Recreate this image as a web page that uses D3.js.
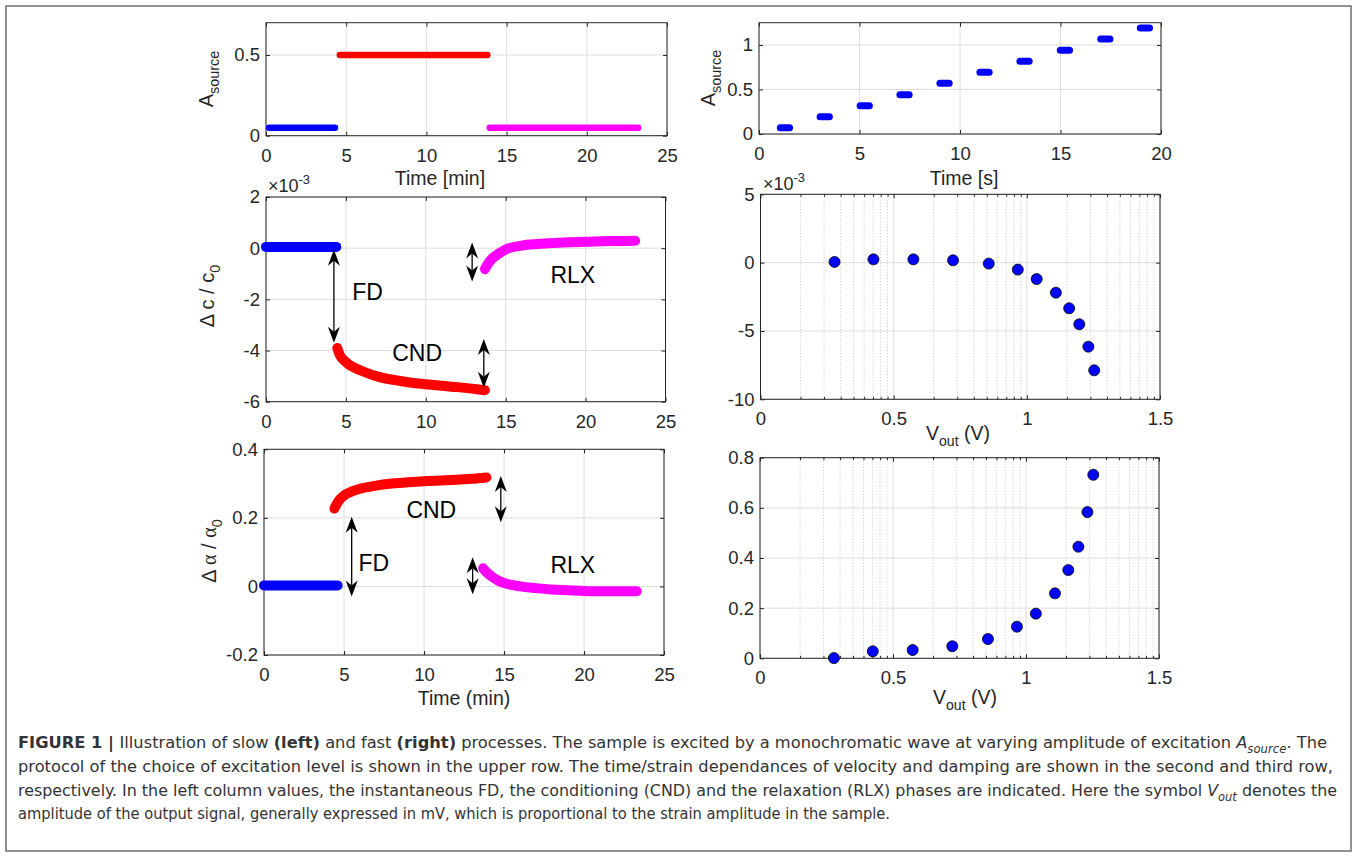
<!DOCTYPE html>
<html>
<head>
<meta charset="utf-8">
<script src="https://cdn.jsdelivr.net/npm/d3@7"></script>
<style>
  body { margin: 0; background: #fff; }
  svg { display: block; }
</style>
</head>
<body>
<script>
'use strict';

// Data ======================================================

// tick values
var slowTicksX = [0, 5, 10, 15, 20, 25];
var fastTicksX = [0, 5, 10, 15, 20];
var voutTicksX = [0, 0.5, 1, 1.5];
var srcSlowTicksY = [0, 0.5];
var srcFastTicksY = [0, 0.5, 1];
var dcSlowTicksY = [-6, -4, -2, 0, 2];
var dcFastTicksY = [-10, -5, 0, 5];
var daSlowTicksY = [-0.2, 0, 0.2, 0.4];
var daFastTicksY = [0, 0.2, 0.4, 0.6, 0.8];

// top left: excitation protocol, slow (time in min)
var srcBlueT = [0.2, 4.3],   srcBlueA = [0.05, 0.05];
var srcRedT  = [4.6, 13.8],  srcRedA  = [0.5, 0.5];
var srcMagT  = [13.95, 23.2], srcMagA = [0.05, 0.05];

// top right: excitation protocol, fast (time in s), one step per level
var fastStart = [1.06, 3.04, 5.03, 7.01, 9.0, 10.99, 12.98, 14.99, 17.0, 18.97];
var fastEnd   = [1.52, 3.5, 5.49, 7.47, 9.46, 11.45, 13.44, 15.45, 17.46, 19.43];
var fastLevel = [0.071, 0.195, 0.318, 0.442, 0.569, 0.693, 0.816, 0.94, 1.067, 1.19];

// middle left: delta c / c0 (x1e-3)
var dcBlueT = [0, 1, 2, 3, 4, 4.4];
var dcBlueV = [0.05, 0.05, 0.05, 0.05, 0.05, 0.05];
var dcRedT  = [4.46, 4.6, 5, 5.5, 6, 7, 8, 9, 10, 11, 12, 13, 13.7];
var dcRedV  = [-3.9, -4.15, -4.45, -4.66, -4.8, -5.02, -5.15, -5.25, -5.32, -5.38, -5.43, -5.5, -5.55];
var dcMagT  = [13.7, 13.9, 14.2, 14.6, 15, 16, 17, 18, 19, 20, 21, 22, 23.1];
var dcMagV  = [-0.82, -0.6, -0.38, -0.2, -0.05, 0.1, 0.16, 0.2, 0.23, 0.25, 0.27, 0.28, 0.29];

// bottom left: delta alpha / alpha0
var daBlueT = [0, 1, 2, 3, 4, 4.6];
var daBlueV = [0.003, 0.003, 0.003, 0.003, 0.003, 0.003];
var daRedT  = [4.4, 4.6, 5, 5.5, 6, 7, 8, 9, 10, 11, 12, 13, 13.9];
var daRedV  = [0.227, 0.245, 0.265, 0.277, 0.285, 0.294, 0.3, 0.304, 0.307, 0.309, 0.311, 0.314, 0.318];
var daMagT  = [13.7, 13.9, 14.2, 14.6, 15, 16, 17, 18, 19, 20, 21, 22, 23.3];
var daMagV  = [0.053, 0.042, 0.03, 0.018, 0.01, 0.0, -0.005, -0.009, -0.011, -0.013, -0.014, -0.014, -0.014];

// right column: values against output amplitude
var vOut   = [0.278, 0.424, 0.574, 0.723, 0.857, 0.966, 1.037, 1.109, 1.159, 1.197, 1.231, 1.253];
var dcFast = [0.05, 0.24, 0.24, 0.17, -0.07, -0.51, -1.2, -2.2, -3.34, -4.51, -6.15, -7.88];
var daFast = [0.001, 0.028, 0.033, 0.048, 0.077, 0.126, 0.178, 0.259, 0.352, 0.445, 0.583, 0.732];

// double arrows (time, from, to) and phase labels
var dcArrowT = [4.25, 13.63, 12.9];
var dcArrowA = [-0.06, -3.55, 0.22];
var dcArrowB = [-3.7, -5.45, -1.3];
var daArrowT = [5.48, 14.8, 13.04];
var daArrowA = [0.203, 0.322, 0.085];
var daArrowB = [-0.029, 0.187, -0.023];
var phaseNames = ['FD', 'CND', 'RLX'];
var dcLabelT = [5.4, 7.9, 17.8], dcLabelV = [-1.71, -4.09, -1.05];
var daLabelT = [5.9, 8.9, 17.9], daLabelV = [0.068, 0.223, 0.062];

//Set-up =======================

var width = 1357, height = 858;
var FONT = '"Liberation Sans", Arial, Helvetica, sans-serif';
var INK = '#262626';
var BLUE = '#0000ff', RED = '#ff0000', MAG = '#ff00ff';

var svg = d3.select('body').append('svg')
    .attr('width', width)
    .attr('height', height);

// outer frame of the figure
svg.append('rect')
  .attr('x', 6).attr('y', 6)
  .attr('width', 1345).attr('height', 845)
  .attr('fill', 'none')
  .attr('stroke', '#6d6e71')
  .attr('stroke-width', 1.5);

// writes text pieces (sub / sup / bold / italic) as tspans
function rich(sel, parts, size) {
  var shift = 0;
  parts.forEach(function (p) {
    var target = p.sub ? size * 0.3 : (p.sup ? -size * 0.45 : 0);
    var ts = sel.append('tspan').text(p.t).attr('dy', target - shift);
    shift = target;
    if (p.sub || p.sup) ts.style('font-size', (size * 0.72) + 'px');
    if (p.b) ts.style('font-weight', 'bold');
    if (p.i) ts.style('font-style', 'italic');
    if (p.f) ts.style('font-family', p.f);
  });
}

// one axes box with grid, inward ticks on all sides
function makePanel(box, xDom, yDom, xTicks, yTicks, minor) {
  var x = d3.scaleLinear().domain(xDom).range([box.l, box.r]);
  var y = d3.scaleLinear().domain(yDom).range([box.b, box.t]);
  var g = svg.append('g');
  var fmt = function (d) { return String(d); };

  if (minor) {
    g.selectAll('line.minor').data(minor).enter().append('line')
      .attr('x1', function (d) { return x(d); })
      .attr('x2', function (d) { return x(d); })
      .attr('y1', box.t).attr('y2', box.b)
      .attr('stroke', '#c4c4c4')
      .attr('stroke-dasharray', '1,2');
  }
  g.selectAll('line.gx').data(xTicks).enter().append('line')
    .attr('x1', function (d) { return x(d); })
    .attr('x2', function (d) { return x(d); })
    .attr('y1', box.t).attr('y2', box.b)
    .attr('stroke', '#dedede');
  g.selectAll('line.gy').data(yTicks).enter().append('line')
    .attr('y1', function (d) { return y(d); })
    .attr('y2', function (d) { return y(d); })
    .attr('x1', box.l).attr('x2', box.r)
    .attr('stroke', '#dedede');

  g.append('rect')
    .attr('x', box.l).attr('y', box.t)
    .attr('width', box.r - box.l).attr('height', box.b - box.t)
    .attr('fill', 'none')
    .attr('stroke', INK);

  g.append('g').attr('transform', 'translate(0,' + box.b + ')')
    .call(d3.axisBottom(x).tickValues(xTicks).tickSize(-4).tickPadding(13).tickFormat(fmt));
  g.append('g').attr('transform', 'translate(0,' + box.t + ')')
    .call(d3.axisTop(x).tickValues(xTicks).tickSize(-4).tickFormat(''));
  g.append('g').attr('transform', 'translate(' + box.l + ',0)')
    .call(d3.axisLeft(y).tickValues(yTicks).tickSize(-4).tickPadding(6).tickFormat(fmt));
  g.append('g').attr('transform', 'translate(' + box.r + ',0)')
    .call(d3.axisRight(y).tickValues(yTicks).tickSize(-4).tickFormat(''));
  if (minor) {
    g.append('g').attr('transform', 'translate(0,' + box.b + ')')
      .call(d3.axisBottom(x).tickValues(minor).tickSize(-2.5).tickFormat(''));
    g.append('g').attr('transform', 'translate(0,' + box.t + ')')
      .call(d3.axisTop(x).tickValues(minor).tickSize(-2.5).tickFormat(''));
  }
  g.selectAll('.domain').remove();
  g.selectAll('.tick line').attr('stroke', INK);
  g.selectAll('.tick text')
    .attr('fill', INK)
    .style('font-size', '18.5px')
    .style('font-family', FONT);

  return { g: g, x: x, y: y, box: box };
}

function thickLine(p, xs, ys, color, w) {
  var pts = xs.map(function (d, i) { return [d, ys[i]]; });
  var line = d3.line()
    .x(function (d) { return p.x(d[0]); })
    .y(function (d) { return p.y(d[1]); })
    .curve(d3.curveMonotoneX);
  p.g.append('path')
    .datum(pts)
    .attr('d', line)
    .attr('fill', 'none')
    .attr('stroke', color)
    .attr('stroke-width', w)
    .attr('stroke-linecap', 'round')
    .attr('stroke-linejoin', 'round');
}

// vertical double arrow with filled heads
function doubleArrow(p, t, a, b) {
  var px = p.x(t), y1 = p.y(a), y2 = p.y(b);
  var top = Math.min(y1, y2), bot = Math.max(y1, y2);
  var hl = 16, hb = 11, hw = 6;
  p.g.append('line')
    .attr('x1', px).attr('x2', px)
    .attr('y1', top + hb).attr('y2', bot - hb)
    .attr('stroke', '#000').attr('stroke-width', 1.3);
  p.g.append('path')
    .attr('d', 'M' + px + ',' + top + 'L' + (px - hw) + ',' + (top + hl) + 'L' + px + ',' + (top + hb) +
               'L' + (px + hw) + ',' + (top + hl) + 'Z')
    .attr('fill', '#000');
  p.g.append('path')
    .attr('d', 'M' + px + ',' + bot + 'L' + (px - hw) + ',' + (bot - hl) + 'L' + px + ',' + (bot - hb) +
               'L' + (px + hw) + ',' + (bot - hl) + 'Z')
    .attr('fill', '#000');
}

function phaseLabels(p, ts, vs) {
  p.g.selectAll('text.phase').data(phaseNames).enter().append('text')
    .attr('x', function (d, i) { return p.x(ts[i]); })
    .attr('y', function (d, i) { return p.y(vs[i]); })
    .attr('dy', '0.36em')
    .style('font-family', FONT)
    .style('font-size', '23px')
    .attr('fill', '#000')
    .text(function (d) { return d; });
}

function xLabel(parts, cx, baseY, size) {
  var t = svg.append('text')
    .attr('x', cx).attr('y', baseY)
    .attr('text-anchor', 'middle')
    .attr('fill', INK)
    .style('font-family', FONT)
    .style('font-size', size + 'px');
  rich(t, parts, size);
}

function yLabel(parts, bx, cy, size) {
  var t = svg.append('text')
    .attr('transform', 'translate(' + bx + ',' + cy + ') rotate(-90)')
    .attr('text-anchor', 'middle')
    .attr('fill', INK)
    .style('font-family', FONT)
    .style('font-size', size + 'px');
  rich(t, parts, size);
}

function exponent(px, py) {
  var t = svg.append('text')
    .attr('x', px).attr('y', py)
    .attr('fill', INK)
    .style('font-family', FONT)
    .style('font-size', '18px');
  rich(t, [{ t: '\u00d710' }, { t: '-3', sup: true }], 18);
}

// minor grid of the V_out panels (log-like spacing inside each half unit)
var minorV = [];
[0, 0.5, 1].forEach(function (s) {
  d3.range(2, 10).forEach(function (k) { minorV.push(s + 0.5 * Math.log10(k)); });
});

//Panels =======================

// top left
var pA = makePanel({ l: 266, t: 22.7, r: 667, b: 135.7 }, [0, 25], [0, 0.7], slowTicksX, srcSlowTicksY);
thickLine(pA, srcBlueT, srcBlueA, BLUE, 6.5);
thickLine(pA, srcRedT, srcRedA, RED, 6.5);
thickLine(pA, srcMagT, srcMagA, MAG, 6.5);
xLabel([{ t: 'Time [min]' }], 440, 185, 19.5);
yLabel([{ t: 'A' }, { t: 'source', sub: true }], 213, 79, 20);

// top right
var pB = makePanel({ l: 759, t: 22.7, r: 1161, b: 134 }, [0, 20], [0, 1.25], fastTicksX, srcFastTicksY);
fastLevel.forEach(function (lv, i) {
  thickLine(pB, [fastStart[i], fastEnd[i]], [lv, lv], BLUE, 7);
});
xLabel([{ t: 'Time [s]' }], 964, 185, 19.5);
yLabel([{ t: 'A' }, { t: 'source', sub: true }], 715, 78, 20);

// middle left
var pC = makePanel({ l: 266, t: 197, r: 665.5, b: 401.7 }, [0, 25], [-6, 2], slowTicksX, dcSlowTicksY);
thickLine(pC, dcBlueT, dcBlueV, BLUE, 10);
thickLine(pC, dcRedT, dcRedV, RED, 10);
thickLine(pC, dcMagT, dcMagV, MAG, 10);
dcArrowT.forEach(function (t, i) { doubleArrow(pC, t, dcArrowA[i], dcArrowB[i]); });
phaseLabels(pC, dcLabelT, dcLabelV);
exponent(268, 192);
yLabel([{ t: '\u0394 c / c' }, { t: '0', sub: true }], 214, 296, 20);

// middle right
var pD = makePanel({ l: 760.5, t: 194.3, r: 1160, b: 399.3 }, [0, 1.5], [-10, 5], voutTicksX, dcFastTicksY, minorV);
pD.g.selectAll('circle.pt').data(vOut).enter().append('circle')
  .attr('cx', function (d) { return pD.x(d); })
  .attr('cy', function (d, i) { return pD.y(dcFast[i]); })
  .attr('r', 5.5)
  .attr('fill', BLUE)
  .attr('stroke', '#000')
  .attr('stroke-width', 0.8);
exponent(763, 190);
xLabel([{ t: 'V' }, { t: 'out', sub: true }, { t: ' (V)' }], 958, 440, 19.5);

// bottom left
var pE = makePanel({ l: 264, t: 449.3, r: 664, b: 655 }, [0, 25], [-0.2, 0.4], slowTicksX, daSlowTicksY);
thickLine(pE, daBlueT, daBlueV, BLUE, 10);
thickLine(pE, daRedT, daRedV, RED, 10);
thickLine(pE, daMagT, daMagV, MAG, 10);
daArrowT.forEach(function (t, i) { doubleArrow(pE, t, daArrowA[i], daArrowB[i]); });
phaseLabels(pE, daLabelT, daLabelV);
xLabel([{ t: 'Time (min)' }], 464, 705, 19.5);
yLabel([{ t: '\u0394 ' }, { t: '\u03b1', f: '"Liberation Serif", serif' }, { t: ' / ' },
        { t: '\u03b1', f: '"Liberation Serif", serif' }, { t: '0', sub: true }], 216, 551, 20);

// bottom right
var pF = makePanel({ l: 760, t: 457.7, r: 1159, b: 658.3 }, [0, 1.5], [0, 0.8], voutTicksX, daFastTicksY, minorV);
pF.g.selectAll('circle.pt').data(vOut).enter().append('circle')
  .attr('cx', function (d) { return pF.x(d); })
  .attr('cy', function (d, i) { return pF.y(daFast[i]); })
  .attr('r', 5.5)
  .attr('fill', BLUE)
  .attr('stroke', '#000')
  .attr('stroke-width', 0.8);
xLabel([{ t: 'V' }, { t: 'out', sub: true }, { t: ' (V)' }], 965, 704, 19.5);

//Caption =======================

var captionLines = [
  [{ t: 'FIGURE 1 | ', b: true }, { t: 'Illustration of slow ' }, { t: '(left)', b: true }, { t: ' and fast ' },
   { t: '(right)', b: true }, { t: ' processes. The sample is excited by a monochromatic wave at varying amplitude of excitation ' },
   { t: 'A', i: true }, { t: 'source', i: true, sub: true }, { t: '. The' }],
  [{ t: 'protocol of the choice of excitation level is shown in the upper row. The time/strain dependances of velocity and damping are shown in the second and third row,' }],
  [{ t: 'respectively. In the left column values, the instantaneous FD, the conditioning (CND) and the relaxation (RLX) phases are indicated. Here the symbol ' },
   { t: 'V', i: true }, { t: 'out', i: true, sub: true }, { t: ' denotes the' }],
  [{ t: 'amplitude of the output signal, generally expressed in mV, which is proportional to the strain amplitude in the sample.' }]
];
var captionWidth = [1309, 1315, 1319, 872];
var captionBase = [748, 772, 796, 819];

captionLines.forEach(function (parts, i) {
  var t = svg.append('text')
    .attr('x', 18).attr('y', captionBase[i])
    .attr('fill', '#333')
    .style('font-family', '"DejaVu Sans Condensed", "Liberation Sans Narrow", "Liberation Sans", sans-serif')
    .style('font-size', '16.5px')
    .attr('textLength', captionWidth[i])
    .attr('lengthAdjust', 'spacingAndGlyphs');
  rich(t, parts, 16.5);
});
</script>
</body>
</html>
